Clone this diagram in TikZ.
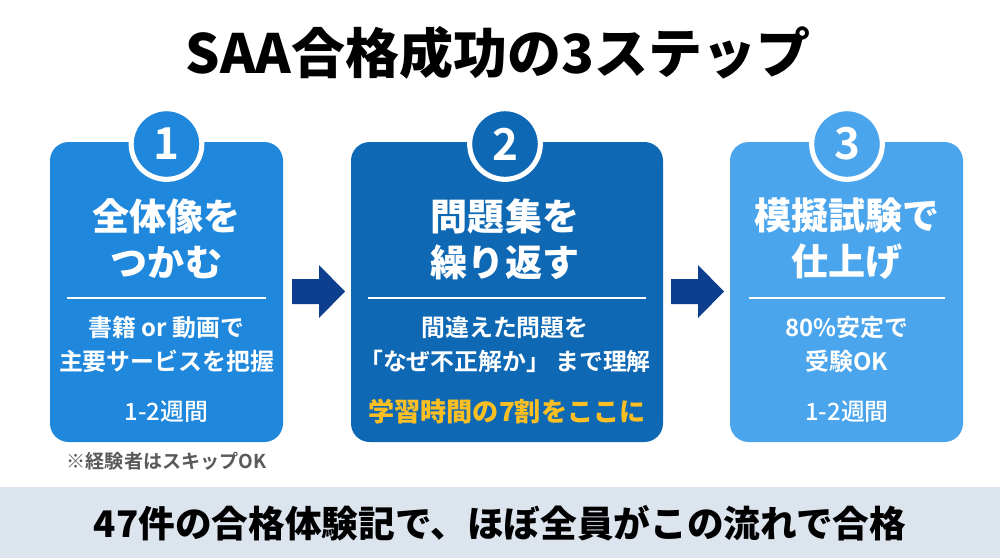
\documentclass[tikz,border=0pt]{standalone}
\usepackage{fontspec}
\setmainfont{Noto Sans CJK JP}[BoldFont={Noto Sans CJK JP Bold}]
\newfontfamily\kblack{Noto Sans CJK JP Black}
\newfontfamily\kmedium{Noto Sans CJK JP Medium}
\usetikzlibrary{positioning}
\definecolor{kcardA}{HTML}{1F88DC}
\definecolor{kcardB}{HTML}{0E68B4}
\definecolor{kcardC}{HTML}{4AA5EC}
\definecolor{karrow}{HTML}{0D3F8E}
\definecolor{kband}{HTML}{DCE4EE}
\definecolor{kgold}{HTML}{FBBF24}
\tikzset{
  card/.style={rounded corners=14pt,fill=#1,draw=none,inner sep=0pt,minimum height=225pt},
  badge/.style={circle,draw=white,line width=3.8pt,fill=#1,text=white,minimum size=53pt,inner sep=0pt,font=\bfseries\fontsize{33}{36}\selectfont},
  headtxt/.style={text=white,font=\kblack\fontsize{27.8}{34.5}\selectfont,align=center},
  bodytxt/.style={text=white,font=\bfseries\fontsize{17.9}{25.5}\selectfont,align=center},
  timetxt/.style={text=white,font=\kmedium\fontsize{17.9}{20}\selectfont},
  rulerow/.style={white,line width=1pt}
}
\begin{document}
\begin{tikzpicture}[x=0.75pt,y=-0.75pt]
\useasboundingbox (0,0) rectangle (1000,558);
\fill[white] (0,0) rectangle (1000,558);
% title
\node (title) at (498,53) {\kblack\fontsize{40.5}{44}\selectfont SAA合格成功の3ステップ};
% cards
\node[card=kcardA,minimum width=174.75pt] (cardA) at (166.5,292) {};
\node[card=kcardB,minimum width=234pt] (cardB) at (507,292) {};
\node[card=kcardC,minimum width=174.75pt] (cardC) at (846.5,292) {};
% badges
\foreach \kx/\ka/\kc in {166.5/1/kcardA,505/2/kcardB,847/3/kcardC}{
  \node[badge=\kc] (badge\ka) at (\kx,144) {\ka};
}
% headings
\node[headtxt] (headA) at (166.5,239) {全体像を\\つかむ};
\node[headtxt] (headB) at (505,239) {問題集を\\繰り返す};
\node[headtxt] (headC) at (847,239) {模擬試験で\\仕上げ};
% rules
\draw[rulerow] (67,298)--(266,298);
\draw[rulerow] (368,298)--(646,298);
\draw[rulerow] (749,298)--(945,298);
% body
\node[bodytxt] (bodyA) at (166.5,344) {書籍 or 動画で\\主要サービスを把握};
\node[bodytxt] (bodyB) at (505,344) {間違えた問題を\\「なぜ不正解か」\hspace{4pt}まで理解};
\node[bodytxt] (bodyC) at (847,344) {80\%安定で\\受験OK};
\node[timetxt] (timeA) at (166.5,412) {1-2週間};
\node[timetxt] (timeC) at (847,412) {1-2週間};
\node[text=kgold,font=\kblack\fontsize{19.6}{22}\selectfont] (goldB) at (507,412) {学習時間の7割をここに};
\node[text=black!65,font=\bfseries\fontsize{14.3}{16}\selectfont] (noteA) at (166.5,461) {※経験者はスキップOK};
% arrows
\foreach \kx in {292,671}{
  \fill[karrow] (\kx,279)--(\kx+27,279)--(\kx+27,265)--(\kx+53,291.5)--(\kx+27,318)--(\kx+27,304)--(\kx,304)--cycle;
}
% band
\fill[kband] (0,487) rectangle (1000,558);
\node (bandtxt) at (500,523) {\kblack\fontsize{27.5}{30}\selectfont 47件の合格体験記で、ほぼ全員がこの流れで合格};
\end{tikzpicture}
\end{document}
